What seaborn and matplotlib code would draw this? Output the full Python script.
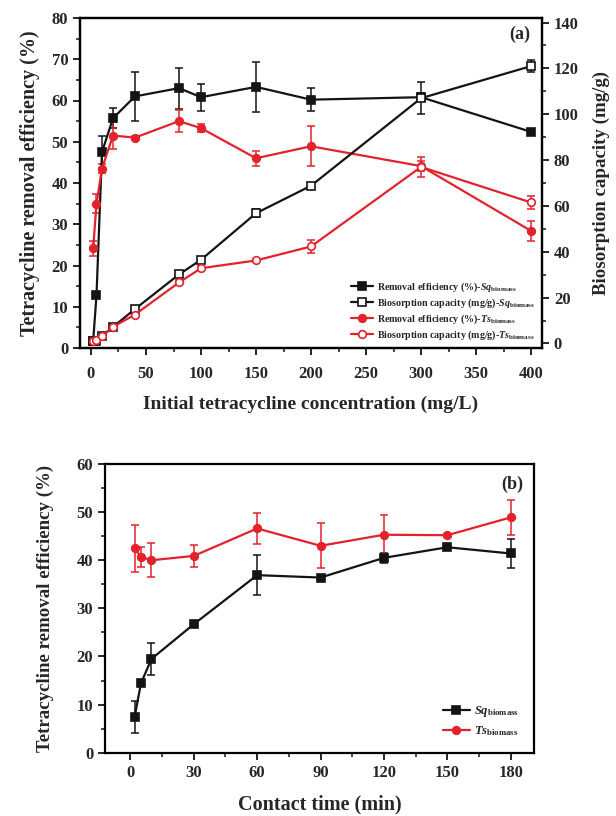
import matplotlib
matplotlib.use("Agg")
import matplotlib.pyplot as plt
from matplotlib.ticker import MultipleLocator
import seaborn as sns

# Panel (a): initial concentration (mg/L)
conc = [2, 5, 10, 20, 40, 80, 100, 150, 200, 300, 400]
re_sq = [1.8, 12.8, 47.5, 55.7, 61.0, 63.0, 60.8, 63.3, 60.2, 60.8, 52.4]
re_sq_err = [0.3, 0.5, 3.8, 2.4, 6.0, 5.0, 3.3, 6.0, 2.8, 1.0, 0.5]
cap_sq = [1.0, 1.2, 3.2, 7.2, 15.0, 30.1, 36.5, 56.8, 68.8, 107.0, 121.0]
cap_sq_err = [0.3, 0.3, 0.5, 0.5, 0.8, 0.8, 0.8, 1.8, 1.0, 7.0, 2.5]
re_ts = [24.2, 35.0, 43.5, 51.5, 51.0, 55.0, 53.3, 46.0, 48.9, 44.1, 28.4]
re_ts_err = [1.8, 2.3, 1.0, 3.3, 0.5, 2.7, 1.0, 1.8, 4.8, 1.2, 2.5]
cap_ts = [1.0, 1.4, 3.2, 7.2, 12.6, 26.6, 32.8, 36.2, 42.3, 77.0, 61.5]
cap_ts_err = [0.3, 0.3, 0.5, 0.5, 0.8, 1.0, 0.8, 0.8, 3.0, 4.2, 2.9]

# Panel (b): contact time (min)
time_min = [2, 5, 10, 30, 60, 90, 120, 150, 180]
t_sq = [7.4, 14.4, 19.5, 26.7, 36.9, 36.4, 40.5, 42.7, 41.4]
t_sq_err = [3.4, 0.3, 3.4, 0.3, 4.2, 0.3, 1.0, 0.5, 3.1]
t_ts = [42.5, 40.7, 40.0, 40.9, 46.6, 43.0, 45.3, 45.2, 48.9]
t_ts_err = [4.9, 2.1, 3.5, 2.3, 3.2, 4.7, 4.0, 0.3, 3.6]

BLACK = "#141414"
RED = "#E3222B"

sns.set_theme(style="ticks")
plt.rcParams["font.family"] = ["Liberation Serif", "DejaVu Serif"]
plt.rcParams["font.weight"] = "bold"
plt.rcParams["axes.labelweight"] = "bold"
plt.rcParams["mathtext.fontset"] = "custom"
plt.rcParams["mathtext.rm"] = "Liberation Serif:bold"
plt.rcParams["mathtext.it"] = "Liberation Serif:italic:bold"


def draw_series(axis, x, y, err, colour, marker, filled, label):
    face = colour if filled else "white"
    sns.lineplot(x=x, y=y, ax=axis, color=colour, marker=marker, markersize=5.5,
                 markerfacecolor=face, markeredgecolor=colour, markeredgewidth=1.2,
                 linewidth=1.6, sort=False, label=label, legend=False)
    axis.errorbar(x, y, yerr=err, fmt="none", ecolor=colour, elinewidth=1.1,
                  capsize=3, capthick=1.1, zorder=1)


def style_axis(axis, size=12):
    for spine in axis.spines.values():
        spine.set_linewidth(1.6)
        spine.set_color("black")
    axis.tick_params(which="major", direction="out", length=5, width=1.4, labelsize=size)
    axis.tick_params(which="minor", direction="out", length=3, width=1.2)
    for lab in axis.get_xticklabels() + axis.get_yticklabels():
        lab.set_fontweight("bold")


fig = plt.figure(figsize=(6.16, 8.16), dpi=100)

# ---- Panel (a)
ax_a = fig.add_axes([80 / 616, 1 - 348 / 816, 462 / 616, 330 / 816])
ax_a2 = ax_a.twinx()

draw_series(ax_a, conc, re_sq, re_sq_err, BLACK, "s", True,
            r"Removal efficiency (%)-$\mathit{Sq}_{\mathrm{biomass}}$")
draw_series(ax_a2, conc, cap_sq, cap_sq_err, BLACK, "s", False,
            r"Biosorption capacity (mg/g)-$\mathit{Sq}_{\mathrm{biomass}}$")
draw_series(ax_a, conc, re_ts, re_ts_err, RED, "o", True,
            r"Removal efficiency (%)-$\mathit{Ts}_{\mathrm{biomass}}$")
draw_series(ax_a2, conc, cap_ts, cap_ts_err, RED, "o", False,
            r"Biosorption capacity (mg/g)-$\mathit{Ts}_{\mathrm{biomass}}$")

ax_a.set_xlim(-10, 410)
ax_a.set_ylim(0, 80)
ax_a2.set_ylim(-2, 142)
ax_a.xaxis.set_major_locator(MultipleLocator(50))
ax_a.xaxis.set_minor_locator(MultipleLocator(25))
ax_a.yaxis.set_major_locator(MultipleLocator(10))
ax_a.yaxis.set_minor_locator(MultipleLocator(5))
ax_a2.yaxis.set_major_locator(MultipleLocator(20))
ax_a2.yaxis.set_minor_locator(MultipleLocator(10))
style_axis(ax_a)
style_axis(ax_a2)
ax_a.tick_params(axis="x", which="major", pad=8)

ax_a.set_xlabel("Initial tetracycline concentration (mg/L)", fontsize=14, labelpad=10)
ax_a.set_ylabel("Tetracycline removal efficiency (%)", fontsize=14.5, labelpad=8)
ax_a2.set_ylabel("Biosorption capacity (mg/g)", fontsize=13.6, labelpad=10)
ax_a.text(0.975, 0.95, "(a)", transform=ax_a.transAxes, ha="right", va="center",
          fontsize=13, fontweight="bold")

h1, l1 = ax_a.get_legend_handles_labels()
h2, l2 = ax_a2.get_legend_handles_labels()
order = [0, 2, 1, 3]
handles = h1 + h2
labels = l1 + l2
handles = [handles[i] for i in order]
labels = [labels[i] for i in order]
ax_a2.legend(handles, labels, loc="lower right", frameon=False,
             handlelength=2.2, handletextpad=0.4, labelspacing=0.25,
             borderaxespad=0.25, prop={"weight": "bold", "size": 7.2})

# ---- Panel (b)
ax_b = fig.add_axes([105 / 616, 1 - 752.7 / 816, 429 / 616, 288.7 / 816])
draw_series(ax_b, time_min, t_sq, t_sq_err, BLACK, "s", True,
            r"$\mathit{Sq}_{\mathrm{biomass}}$")
draw_series(ax_b, time_min, t_ts, t_ts_err, RED, "o", True,
            r"$\mathit{Ts}_{\mathrm{biomass}}$")
ax_b.set_xlim(-12, 191)
ax_b.set_ylim(0, 60)
ax_b.xaxis.set_major_locator(MultipleLocator(30))
ax_b.xaxis.set_minor_locator(MultipleLocator(15))
ax_b.yaxis.set_major_locator(MultipleLocator(10))
ax_b.yaxis.set_minor_locator(MultipleLocator(5))
style_axis(ax_b)
ax_b.set_xlabel("Contact time (min)", fontsize=14.5, labelpad=10)
ax_b.set_ylabel("Tetracycline removal efficiency (%)", fontsize=13.6, labelpad=16)
ax_b.text(0.975, 0.93, "(b)", transform=ax_b.transAxes, ha="right", va="center",
          fontsize=13, fontweight="bold")
ax_b.legend(loc="lower right", frameon=False, fontsize=9, handlelength=2.2,
            handletextpad=0.3, labelspacing=0.4, borderaxespad=0.8)

plt.savefig("out.png", dpi=100)
